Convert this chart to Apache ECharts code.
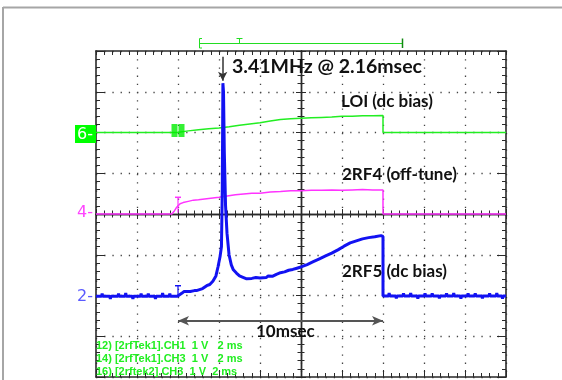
<!DOCTYPE html>
<html><head><meta charset="utf-8">
<script src="https://cdn.jsdelivr.net/npm/echarts@6/dist/echarts.min.js"></script>
<style>html,body{margin:0;padding:0;background:#fff}#c{width:562px;height:380px}</style>
</head><body><div id="c"></div>
<script>
// time in ms (2 ms/div, 10 div), amplitude in volts (1 V/div), screen-centred
const timeRange = [0, 20];
const voltRange = [-4, 4];

// LOI (dc bias), channel 6
const loiTrace = [[0,2.0],[3.95,2.0],[4.0,2.02],[4.5,2.04],[5.0,2.07],[5.5,2.09],[6.0,2.11],[6.5,2.14],[7.0,2.18],[7.5,2.21],[8.0,2.24],[8.5,2.28],[9.0,2.32],[9.5,2.34],[10.0,2.35],[10.5,2.36],[11.0,2.37],[11.5,2.38],[12.0,2.40],[12.5,2.40],[13.0,2.41],[13.5,2.41],[14.0,2.42],[14.0,2.0],[20,2.0]];

// 2RF4 (off-tune), channel 4
const rf4Trace = [[0,0],[3.7,0],[3.8,0.06],[3.9,0.14],[4.0,0.2],[4.1,0.25],[4.25,0.28],[4.5,0.31],[4.75,0.34],[5.0,0.35],[5.5,0.38],[6.0,0.41],[6.4,0.44],[6.8,0.47],[7.2,0.49],[7.6,0.51],[8.0,0.51],[8.5,0.54],[9.0,0.55],[9.5,0.57],[10,0.57],[10.5,0.58],[11,0.58],[11.5,0.59],[12,0.58],[12.5,0.59],[13,0.6],[13.5,0.59],[14,0.59],[14,0],[20,0]];

// 2RF5 (dc bias), channel 2 — noisy baseline with short glitches
const rf5Trace = [
[0,-2.02],[0.27,-2.02],[0.3,-1.95],[0.33,-2.02],[0.67,-2.02],[0.7,-2.08],[0.73,-2.02],[1.07,-2.02],[1.1,-1.95],[1.13,-2.02],[1.42,-2.02],[1.45,-1.94],[1.48,-2.02],[1.77,-2.02],[1.8,-2.08],[1.83,-2.02],
[2.17,-2.02],[2.2,-1.95],[2.23,-2.02],[2.52,-2.02],[2.55,-1.95],[2.58,-2.02],[2.87,-2.02],[2.9,-2.08],[2.93,-2.02],[3.22,-2.02],[3.25,-1.94],[3.28,-2.02],[3.57,-2.02],[3.6,-1.95],[3.63,-2.02],[3.97,-2.02],
[4.0,-1.98],[4.2,-1.94],[4.3,-1.9],[4.35,-1.94],[4.6,-1.9],[4.8,-1.88],[4.85,-1.84],[4.9,-1.88],[5.2,-1.83],[5.4,-1.76],[5.55,-1.73],[5.7,-1.65],[5.85,-1.52],[5.95,-1.3],[6.05,-1.05],[6.12,-0.8],[6.16,0.6],[6.19,3.21],[6.22,3.0],[6.26,1.5],[6.32,0.2],[6.39,-0.47],[6.49,-1.0],[6.6,-1.25],[6.7,-1.37],[6.85,-1.45],[7.0,-1.52],
[7.2,-1.56],[7.35,-1.59],[7.4,-1.55],[7.6,-1.58],[7.8,-1.56],[7.85,-1.6],[8.0,-1.57],[8.3,-1.56],[8.4,-1.52],[8.6,-1.53],[8.8,-1.48],[9.0,-1.44],[9.2,-1.42],[9.25,-1.38],[9.4,-1.38],[9.6,-1.36],[9.8,-1.33],[10.0,-1.3],[10.3,-1.24],[10.35,-1.2],[10.6,-1.17],[10.9,-1.1],[11.2,-1.03],[11.25,-0.99],[11.5,-0.96],[11.8,-0.88],[12.1,-0.79],[12.15,-0.75],[12.4,-0.71],[12.7,-0.66],[13.0,-0.61],[13.05,-0.57],[13.3,-0.58],[13.6,-0.56],[13.65,-0.52],[13.9,-0.53],[14.0,-0.55],[14.0,-2.01],
[14.27,-2.01],[14.3,-1.94],[14.33,-2.01],[14.62,-2.01],[14.65,-2.07],[14.68,-2.01],[14.97,-2.01],[15.0,-1.95],[15.03,-2.01],[15.32,-2.01],[15.35,-1.94],[15.38,-2.01],[15.67,-2.01],[15.7,-2.08],[15.73,-2.01],
[16.02,-2.01],[16.05,-1.95],[16.08,-2.01],[16.37,-2.01],[16.4,-1.95],[16.43,-2.01],[16.72,-2.01],[16.75,-2.07],[16.78,-2.01],[17.07,-2.01],[17.1,-1.95],[17.13,-2.01],[17.42,-2.01],[17.45,-1.94],[17.48,-2.01],
[17.77,-2.01],[17.8,-2.08],[17.83,-2.01],[18.12,-2.01],[18.15,-1.95],[18.18,-2.01],[18.47,-2.01],[18.5,-1.95],[18.53,-2.01],[18.82,-2.01],[18.85,-2.07],[18.88,-2.01],[19.17,-2.01],[19.2,-1.95],[19.23,-2.01],
[19.52,-2.01],[19.55,-1.94],[19.58,-2.01],[19.8,-2.01],[19.83,-2.08],[19.86,-2.01],[20,-2.01]];

// cursor markers at pulse start
const loiMarker = [[4.0, 2.05]];
const rf4Cursor = [[4.0, 0.03],[4.0, 0.41]];
const rf5Cursor = [[4.0, -2.0],[4.0, -1.76]];

// annotations
const spikeTime = 6.18;
const pulseWindow = [4, 14];
const titleText = '3.41MHz @ 2.16msec';
const traceNames = ['LOI (dc bias)', '2RF4 (off-tune)', '2RF5 (dc bias)'];
const windowText = '10msec';
const channelLabels = ['6-', '4-', '2-'];
const infoLines = ['12) [2rfTek1].CH1  1 V   2 ms', '14) [2rfTek1].CH3  1 V   2 ms', '16) [2rftek2].CH3  1 V  2 ms'];

const GREEN = '#22ee22', MAG = '#ff33ff', BLUE = '#1212f2', INK = '#2a2a2a';
const dotted = {color:'#444', width:1.3, type:[1.3, 6.9]};
const edgeLine = {color: INK, width: 1.6};

function edgeAxis(pos, major, extra) {
  const isX = pos==='top'||pos==='bottom';
  return Object.assign({
    type:'value', position: pos, min: isX?timeRange[0]:voltRange[0],
    max: isX?timeRange[1]:voltRange[1], interval: isX?2:1,
    axisLine:{show:true, onZero:false, lineStyle: edgeLine},
    axisTick:{show:true, inside:true, length: major, lineStyle:{color:INK, width:1}},
    minorTick:{show:true, splitNumber:5, length:4, lineStyle:{color:INK, width:1}},
    axisLabel:{show:false}, splitLine:{show:false}
  }, extra||{});
}
function centerAxis(isX, inside) {
  return {
    type:'value', position: isX?'bottom':'left',
    min: isX?timeRange[0]:voltRange[0], max: isX?timeRange[1]:voltRange[1], interval: isX?2:1,
    axisLine:{show:true, onZero:true, onZeroAxisIndex: isX?0:4, lineStyle:{color:INK, width:1.4}},
    axisTick:{show:true, inside: inside, length:5, lineStyle:{color:INK, width:1}},
    minorTick:{show:true, splitNumber:5, length:3.5, lineStyle:{color:INK, width:1}},
    axisLabel:{show:false}, splitLine:{show:false}
  };
}

const chart = echarts.init(document.getElementById('c'), null, {renderer:'canvas'});
const txt = (text, x, y, font, fill, extra) => ({type:'text', z:100, style:Object.assign({text, x, y, font, fill, verticalAlign:'middle'}, extra||{})});
const ln = (x1,y1,x2,y2,stroke,w) => ({type:'line', z:90, shape:{x1,y1,x2,y2}, style:{stroke, lineWidth:w||1}});

chart.setOption({
  animation:false,
  backgroundColor:'#ffffff',
  grid:{left:96, top:51, width:410, height:326, show:false, outerBoundsMode:'none', containLabel:false},
  xAxis:[
    edgeAxis('bottom', 7, {splitLine:{show:true, lineStyle:dotted}}),
    edgeAxis('top', 4),
    centerAxis(true, true),
    centerAxis(true, false),
    {type:'value', min:-10, max:10, show:false}
  ],
  yAxis:[
    edgeAxis('left', 9, {splitLine:{show:true, lineStyle:dotted}}),
    edgeAxis('right', 9),
    centerAxis(false, true),
    centerAxis(false, false)
  ],
  series:[
    {type:'line', name:traceNames[0], data:loiTrace, xAxisIndex:0, yAxisIndex:0, showSymbol:false, symbol:'none',
     lineStyle:{color:GREEN, width:1.5}, z:5},
    {type:'line', name:traceNames[1], data:rf4Trace, xAxisIndex:0, yAxisIndex:0, showSymbol:false, symbol:'none',
     lineStyle:{color:MAG, width:1.5}, z:5},
    {type:'line', name:traceNames[2], data:rf5Trace, xAxisIndex:0, yAxisIndex:0, showSymbol:false, symbol:'none',
     lineStyle:{color:BLUE, width:3, join:'bevel'}, z:6,
     markLine:{silent:true, symbol:['arrow','arrow'], symbolSize:[7,11], label:{show:false},
       data:[
         [{coord:[pulseWindow[0], -2.62], lineStyle:{color:'#555', width:2, type:'solid'}, symbol:'arrow'},
          {coord:[pulseWindow[1], -2.62], symbol:'arrow'}],
         [{coord:[spikeTime, 3.86], lineStyle:{color:'#333', width:1.5, type:'solid'}, symbol:'none'},
          {coord:[spikeTime, 3.27], symbol:'arrow', symbolSize:[7,9]}]
       ]}},
    {type:'line', data:[{value:rf4Cursor[0], symbol:'none'},{value:rf4Cursor[1], symbol:'rect', symbolSize:[6,1.5]}],
     showSymbol:true, lineStyle:{color:MAG, width:1.2}, itemStyle:{color:MAG}, z:7},
    {type:'line', data:[{value:rf5Cursor[0], symbol:'none'},{value:rf5Cursor[1], symbol:'rect', symbolSize:[6,1.5]}],
     showSymbol:true, lineStyle:{color:BLUE, width:1.2}, itemStyle:{color:BLUE}, z:7},
    {type:'scatter', data:loiMarker, symbol:'path://M0,0H6V13H0Z M7,0H13V13H7Z', symbolSize:[13,13],
     itemStyle:{color:'#00ee00'}, z:8}
  ],
  graphic:[
    ln(3,7.5,562,7.5,'#a6a6a6',2),
    ln(3,7,3,380,'#a6a6a6',2),
    // trigger / record bracket
    ln(200,43.5,403,43.5,'#22dd22',1),
    ln(199.5,38.5,199.5,48,'#22dd22',1),
    ln(199.5,38.5,202,38.5,'#22dd22',1),
    ln(199.5,48,202,48,'#22dd22',1),
    ln(239.5,38.5,239.5,43.5,'#22dd22',1),
    ln(236.5,38.5,242.5,38.5,'#22dd22',1),
    ln(402.5,38.5,402.5,48,'#118811',1.5),
    // channel markers
    {type:'rect', z:95, shape:{x:75, y:125, width:21, height:18}, style:{fill:'#00ff00'}},
    txt(channelLabels[0], 77, 134.5, '16px "DejaVu Sans"', '#ffffff'),
    txt(channelLabels[1], 77, 213, '16px "DejaVu Sans"', '#ff44ff'),
    txt(channelLabels[2], 77, 297, '16px "DejaVu Sans"', '#5a5aff'),
    // annotations
    txt(titleText, 232, 67, 'bold 19.5px Lato', '#111'),
    txt(traceNames[0], 341, 101.5, 'bold 17px Lato', '#111'),
    txt(traceNames[1], 342, 174.5, 'bold 17px Lato', '#111'),
    txt(traceNames[2], 342, 271.5, 'bold 17px Lato', '#111'),
    txt(windowText, 256, 331.5, 'bold 17px Lato', '#111'),
    txt(infoLines[0], 96, 346, 'bold 11px "Liberation Sans"', '#22ee22'),
    txt(infoLines[1], 96, 359, 'bold 11px "Liberation Sans"', '#22ee22'),
    txt(infoLines[2], 96, 372, 'bold 11px "Liberation Sans"', '#22ee22')
  ]
});
</script></body></html>
